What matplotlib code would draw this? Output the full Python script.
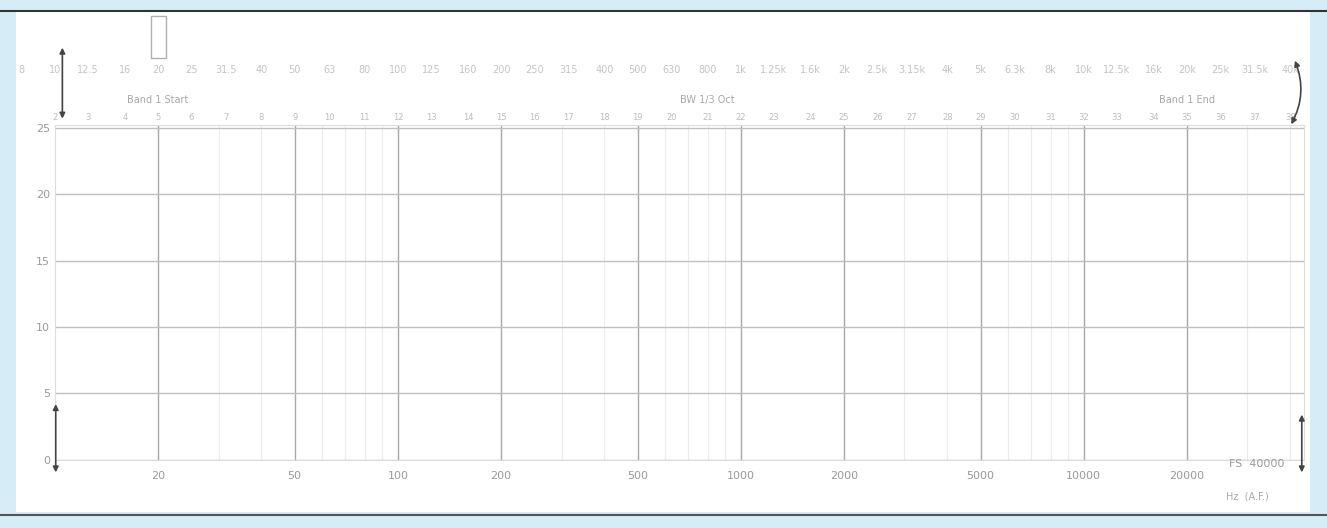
import numpy as np
import matplotlib.pyplot as plt
from matplotlib.patches import Rectangle, FancyArrowPatch
from matplotlib.transforms import blended_transform_factory

# Axis data
x_ticks = [20, 50, 100, 200, 500, 1000, 2000, 5000, 10000, 20000]
x_tick_labels = ['20', '50', '100', '200', '500', '1000', '2000', '5000', '10000', '20000']
y_ticks = [0, 5, 10, 15, 20, 25]
x_min, x_max = 10, 44000
y_min, y_max = 0, 25.2

# 1/3-octave band centre frequencies shown in the top row
band_freqs = [8, 10, 12.5, 16, 20, 25, 31.5, 40, 50, 63, 80, 100, 125, 160, 200,
              250, 315, 400, 500, 630, 800, 1000, 1250, 1600, 2000, 2500, 3150,
              4000, 5000, 6300, 8000, 10000, 12500, 16000, 20000, 25000, 31500, 40000]
band_labels = ['8', '10', '12.5', '16', '20', '25', '31.5', '40', '50', '63', '80',
               '100', '125', '160', '200', '250', '315', '400', '500', '630', '800',
               '1k', '1.25k', '1.6k', '2k', '2.5k', '3.15k', '4k', '5k', '6.3k', '8k',
               '10k', '12.5k', '16k', '20k', '25k', '31.5k', '40k']
band_notes = ['Band 1 Start', 'BW 1/3 Oct', 'Band 1 End']
band_note_freqs = [20, 800, 20000]

grey = '#9a9a9a'
light = '#dcdcdc'

fig = plt.figure(figsize=(13.27, 5.28), dpi=100)
fig.patch.set_facecolor('#d6ecf7')
# white panel inside the light blue frame
fig.add_artist(Rectangle((0.012, 0.03), 0.975, 0.95, transform=fig.transFigure,
                         facecolor='white', edgecolor='none', zorder=0))
fig.add_artist(plt.Line2D([0.0, 1.0], [0.98, 0.98], transform=fig.transFigure,
                          color='#333333', lw=1.5))
fig.add_artist(plt.Line2D([0.0, 1.0], [0.025, 0.025], transform=fig.transFigure,
                          color='#555555', lw=1.5))

ax = fig.add_axes([0.0414, 0.129, 0.9416, 0.634])
ax.set_facecolor('white')
ax.set_xscale('log')
ax.set_xlim(x_min, x_max)
ax.set_ylim(y_min, y_max)

ax.set_xticks(x_ticks)
ax.set_xticklabels(x_tick_labels)
ax.set_xticks([m * d for d in [10, 100, 1000, 10000] for m in range(2, 10)
               if x_min < m * d < x_max], minor=True)
ax.xaxis.set_minor_formatter(plt.NullFormatter())
ax.set_yticks(y_ticks)

ax.grid(True, which='major', axis='x', color='#a8a8a8', lw=1.0)
ax.grid(True, which='minor', axis='x', color='#ececec', lw=0.8)
ax.grid(True, which='major', axis='y', color='#c0c0c0', lw=1.0)

ax.tick_params(axis='both', which='both', length=0, colors=grey, labelsize=8)
ax.tick_params(axis='x', pad=8)
for s in ax.spines.values():
    s.set_color(light)
    s.set_linewidth(0.8)

# top row of band centre frequencies and band index row on the top axis
trans = blended_transform_factory(ax.transData, ax.transAxes)
for i, (f, lab) in enumerate(zip(band_freqs, band_labels)):
    ax.text(f, 1.165, lab, transform=trans, ha='center', va='center',
            fontsize=7, color='#c4c4c4', clip_on=False)
    if x_min <= f <= x_max:
        ax.text(f, 1.01, str(i + 1), transform=trans, ha='center', va='bottom',
                fontsize=6, color='#bdbdbd', clip_on=False)

for f, note in zip(band_note_freqs, band_notes):
    ax.text(f, 1.075, note, transform=trans, ha='center', va='center',
            fontsize=7, color='#a8a8a8', clip_on=False)

# range marker arrows
for xa, ya, xb, yb, rad in [(0.047, 0.915, 0.047, 0.77, 0.0),
                            (0.975, 0.89, 0.972, 0.76, -0.25),
                            (0.042, 0.24, 0.042, 0.10, 0.0),
                            (0.981, 0.22, 0.981, 0.10, 0.0)]:
    fig.add_artist(FancyArrowPatch((xa, ya), (xb, yb), transform=fig.transFigure,
                                   arrowstyle='<|-|>', mutation_scale=8,
                                   connectionstyle=f'arc3,rad={rad}',
                                   color='#444444', lw=1.2))

# slider thumb near the top
fig.add_artist(Rectangle((0.114, 0.89), 0.011, 0.08, transform=fig.transFigure,
                         facecolor='white', edgecolor='#b0b0b0', lw=1.0))

fig.text(0.947, 0.122, 'FS  40000', ha='center', va='center', fontsize=8, color=grey)
fig.text(0.94, 0.06, 'Hz  (A.F.)', ha='center', va='center', fontsize=7, color='#aaaaaa')

fig.savefig('out.png', dpi=100, facecolor=fig.get_facecolor())
